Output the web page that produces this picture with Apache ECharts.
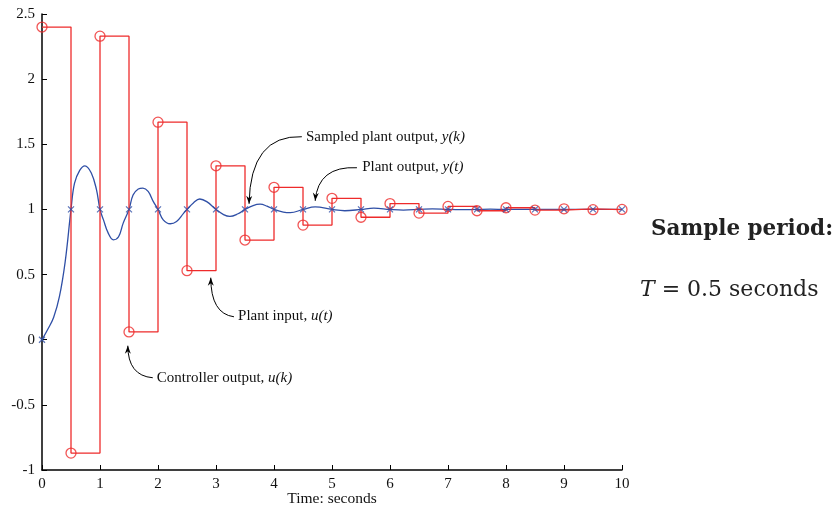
<!DOCTYPE html>
<html>
<head>
<meta charset="utf-8">
<script src="https://cdn.jsdelivr.net/npm/echarts@6/dist/echarts.min.js"></script>
<style>
  html, body { margin: 0; padding: 0; background: #fff; }
  #chart { width: 837px; height: 512px; }
</style>
</head>
<body>
<div id="chart"></div>
<script>
// sample instants k*T, T = 0.5 s
const sampleTimes = [0, 0.5, 1, 1.5, 2, 2.5, 3, 3.5, 4, 4.5, 5, 5.5, 6, 6.5, 7, 7.5, 8, 8.5, 9, 9.5, 10];
// controller output u(k) (held -> plant input u(t))
const controllerOut = [2.40, -0.87, 2.33, 0.06, 1.67, 0.53, 1.335, 0.765, 1.17, 0.88, 1.085, 0.94, 1.045, 0.972, 1.023, 0.99, 1.013, 0.995, 1.005, 0.998, 1.0];
// sampled plant output y(k)
const sampledOut = [0, 1, 1, 1, 1, 1, 1, 1, 1, 1, 1, 1, 1, 1, 1, 1, 1, 1, 1, 1, 1];
// continuous plant output y(t)
const plantTime = [0, 0.1, 0.2, 0.3, 0.4, 0.5, 0.56, 0.65, 0.74, 0.85, 0.94, 1.0, 1.06, 1.14, 1.23, 1.32, 1.40, 1.5, 1.57, 1.66, 1.74, 1.83, 1.92, 2.0, 2.09, 2.21, 2.32, 2.44, 2.5, 2.61, 2.72, 2.84, 3.0, 3.13, 3.24, 3.38, 3.5, 3.64, 3.76, 3.88, 4.0, 4.16, 4.28, 4.5, 4.71, 5.0, 5.22, 5.5, 5.72, 6.0, 6.23, 6.5, 6.73, 7.0, 7.23, 7.5, 7.73, 8.0, 8.5, 9.0, 9.5, 10];
const plantOut = [0, 0.08, 0.17, 0.33, 0.6, 1.0, 1.2, 1.30, 1.335, 1.28, 1.15, 1.0, 0.92, 0.82, 0.767, 0.79, 0.895, 1.0, 1.11, 1.157, 1.164, 1.138, 1.06, 1.0, 0.92, 0.89, 0.908, 0.97, 1.0, 1.05, 1.08, 1.06, 1.0, 0.96, 0.946, 0.967, 1.0, 1.03, 1.04, 1.025, 1.0, 0.98, 0.975, 1.0, 1.02, 1.0, 0.99, 1.0, 1.01, 1.0, 0.995, 1.0, 1.005, 1.0, 0.998, 1.0, 1.002, 1.0, 1.0, 1.0, 1.0, 1.0];
// axis ticks
const xTicks = [0, 1, 2, 3, 4, 5, 6, 7, 8, 9, 10];
const yTicks = [-1, -0.5, 0, 0.5, 1, 1.5, 2, 2.5];

// annotations: text position, arrow start, control point and tip, all in data units
const notes = [
  { text: 'Sampled plant output, {i|y(k)}', at: [4.55, 1.558], from: [4.48, 1.558], ctrl: [3.59, 1.573], tip: [3.57, 1.043] },
  { text: 'Plant output, {i|y(t)}', at: [5.52, 1.327], from: [5.43, 1.32], ctrl: [4.76, 1.335], tip: [4.71, 1.066] },
  { text: 'Plant input, {i|u(t)}', at: [3.38, 0.184], from: [3.31, 0.176], ctrl: [2.91, 0.199], tip: [2.91, 0.476] },
  { text: 'Controller output, {i|u(k)}', at: [1.98, -0.292], from: [1.91, -0.292], ctrl: [1.48, -0.276], tip: [1.48, -0.046] }
];

const RED = '#ee2b2b';
const BLUE = '#2f4fa6';
const SERIF = '"Liberation Serif", "Times New Roman", serif';

const chart = echarts.init(document.getElementById('chart'));

const axisCommon = {
  axisLine: { lineStyle: { color: '#000', width: 1.5 } },
  axisTick: { inside: true, length: 5, lineStyle: { color: '#000', width: 1 } },
  splitLine: { show: false },
  axisLabel: { color: '#111', fontFamily: SERIF, fontSize: 15 }
};

chart.setOption({
  animation: false,
  backgroundColor: '#fff',
  grid: { left: 42, right: 215, top: 14, bottom: 42, outerBoundsMode: 'none' },
  xAxis: Object.assign({}, axisCommon, {
    type: 'value',
    min: xTicks[0],
    max: xTicks[xTicks.length - 1],
    interval: xTicks[1] - xTicks[0],
    name: 'Time: seconds',
    nameLocation: 'middle',
    nameGap: 21,
    nameMoveOverlap: false,
    nameTextStyle: { color: '#111', fontFamily: SERIF, fontSize: 15.5 },
    axisLine: { onZero: false, lineStyle: { color: '#000', width: 1.5 } },
    axisLabel: Object.assign({}, axisCommon.axisLabel, { margin: 7 })
  }),
  yAxis: Object.assign({}, axisCommon, {
    type: 'value',
    min: yTicks[0],
    max: yTicks[yTicks.length - 1],
    interval: yTicks[1] - yTicks[0],
    axisLine: { onZero: false, lineStyle: { color: '#000', width: 1.5 } },
    axisLabel: Object.assign({}, axisCommon.axisLabel, { margin: 7 })
  }),
  series: [
    {
      name: 'y(t)',
      type: 'line',
      data: plantTime.map((t, i) => [t, plantOut[i]]),
      smooth: 0.4,
      showSymbol: false,
      lineStyle: { color: BLUE, width: 1.3 },
      z: 2
    },
    {
      name: 'u(t)',
      type: 'line',
      step: 'end',
      data: sampleTimes.map((t, i) => [t, controllerOut[i]]),
      showSymbol: false,
      lineStyle: { color: RED, width: 1.3 },
      z: 3
    },
    {
      name: 'u(k)',
      type: 'scatter',
      data: sampleTimes.map((t, i) => [t, controllerOut[i]]),
      symbol: 'circle',
      symbolSize: 10,
      itemStyle: { color: 'transparent', borderColor: RED, borderWidth: 1.3 },
      z: 4
    },
    {
      name: 'y(k)',
      type: 'scatter',
      data: sampleTimes.map((t, i) => [t, sampledOut[i]]),
      symbol: 'path://M0,0L10,10M10,0L0,10',
      symbolSize: 6,
      itemStyle: { color: 'transparent', borderColor: BLUE, borderWidth: 1.2 },
      z: 5
    }
  ]
});

// annotation arrows and labels, placed through the axes
function drawNotes() {
  const px = (p) => chart.convertToPixel({ gridIndex: 0 }, p);
  const elements = [];
  notes.forEach((n) => {
    const a = px(n.at), s = px(n.from), c = px(n.ctrl), t = px(n.tip);
    elements.push({
      type: 'text',
      x: a[0], y: a[1],
      style: {
        text: n.text,
        fill: '#111',
        font: '15px ' + SERIF,
        verticalAlign: 'middle',
        rich: { i: { fontStyle: 'italic', fontFamily: SERIF, fontSize: 15, fill: '#111' } }
      }
    });
    elements.push({
      type: 'bezierCurve',
      shape: { x1: s[0], y1: s[1], x2: t[0], y2: t[1], cpx1: c[0], cpy1: c[1] },
      style: { stroke: '#000', lineWidth: 1, fill: null }
    });
    const dx = t[0] - c[0], dy = t[1] - c[1];
    const len = Math.hypot(dx, dy) || 1;
    const ux = dx / len, uy = dy / len;
    const L = 8, W = 3;
    elements.push({
      type: 'polygon',
      shape: { points: [
        [t[0], t[1]],
        [t[0] - ux * L - uy * W, t[1] - uy * L + ux * W],
        [t[0] - ux * L * 0.7, t[1] - uy * L * 0.7],
        [t[0] - ux * L + uy * W, t[1] - uy * L - ux * W]
      ] },
      style: { fill: '#000' }
    });
  });
  elements.push({
    type: 'text', x: 651, y: 229,
    style: { text: 'Sample period:', fill: '#222', font: 'bold 21.5px "DejaVu Serif", serif', verticalAlign: 'middle' }
  });
  elements.push({
    type: 'text', x: 640, y: 290,
    style: {
      text: '{i|T} = 0.5 seconds',
      fill: '#222',
      font: '22px "DejaVu Serif", serif',
      verticalAlign: 'middle',
      rich: { i: { fontStyle: 'italic', fontFamily: '"DejaVu Serif", serif', fontSize: 22, fill: '#222' } }
    }
  });
  chart.setOption({ graphic: elements });
}
drawNotes();
</script>
</body>
</html>
